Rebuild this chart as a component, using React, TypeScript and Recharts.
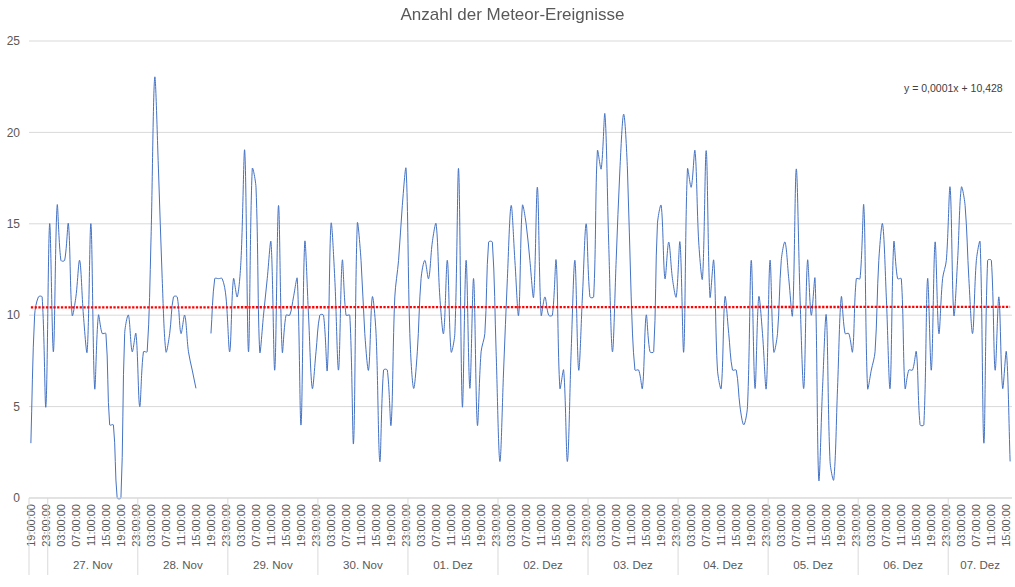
import { LineChart, Line, XAxis, YAxis, CartesianGrid, ReferenceLine } from "recharts";

const FONT = "'Liberation Sans', Arial, sans-serif";

// erste Messung: 26. Nov 19:00, danach stündlich
const FIRST_HOUR = 19;

const NOV_26 = [3, 10, 11, 11, 5];
const NOV_27 = [15, 8, 16, 13, 13, 15, 10, 11, 13, 10, 8, 15, 6, 10, 9, 9, 4, 4, 0, 0, 9, 10, 8, 9];
const NOV_28 = [5, 8, 8, 14, 23, 18, 12, 8, 9, 11, 11, 9, 10, 8, 7, 6, null, null, null, 9, 12, 12, 12, 11];
const NOV_29 = [8, 12, 11, 13, 19, 8, 18, 17, 8, 10, 12, 14, 7, 16, 8, 10, 10, 11, 12, 4, 14, 10, 6, 8];
const NOV_30 = [10, 10, 7, 15, 12, 7, 13, 10, 10, 3, 15, 13, 9, 7, 11, 9, 2, 7, 7, 4, 11, 13, 16, 18];
const DEZ_01 = [9, 6, 8, 12, 13, 12, 14, 15, 11, 9, 13, 8, 9, 18, 5, 13, 6, 12, 4, 8, 9, 14, 14, 8];
const DEZ_02 = [2, 7, 12, 16, 13, 10, 16, 15, 13, 11, 17, 10, 11, 10, 10, 13, 6, 7, 2, 8, 13, 7, 11, 15];
const DEZ_03 = [11, 11, 19, 18, 21, 14, 8, 13, 18, 21, 18, 11, 7, 7, 6, 10, 8, 8, 15, 16, 12, 14, 12, 11];
const DEZ_04 = [14, 8, 18, 17, 19, 14, 12, 19, 11, 13, 7, 6, 11, 9, 7, 7, 5, 4, 5, 13, 6, 11, 9, 6];
const DEZ_05 = [13, 8, 9, 13, 14, 12, 10, 18, 11, 6, 13, 10, 12, 1, 6, 10, 2, 1, 6, 11, 9, 9, 8, 12];
const DEZ_06 = [12, 16, 6, 7, 8, 13, 15, 11, 6, 14, 12, 12, 6, 7, 7, 8, 4, 4, 12, 7, 14, 9, 12, 13];
const DEZ_07 = [17, 10, 13, 17, 16, 12, 9, 13, 14, 3, 13, 13, 7, 11, 6, 8, 2];

// erster (angeschnittener) Tag bekommt keine Beschriftung, wie im Original
const DAY_LABELS = ["", "27. Nov", "28. Nov", "29. Nov", "30. Nov", "01. Dez", "02. Dez", "03. Dez", "04. Dez", "05. Dez", "06. Dez", "07. Dez"];
const DAY_COUNTS: (number | null)[][] = [NOV_26, NOV_27, NOV_28, NOV_29, NOV_30, DEZ_01, DEZ_02, DEZ_03, DEZ_04, DEZ_05, DEZ_06, DEZ_07];

const Y_TICKS = [0, 5, 10, 15, 20, 25];

// lineare Trendlinie, Werte aus der Beschriftung im Diagramm
const TREND_SLOPE = 0.0001;
const TREND_INTERCEPT = 10.428;
const TREND_LABEL = "y = 0,0001x + 10,428";

const HOUR_AXIS_H = 62;

const data: { idx: number; count: number | null }[] = [];
const boundaries = new Set<number>();
const centerLabels = new Map<number, string>();
DAY_COUNTS.forEach((counts, d) => {
  const start = data.length;
  boundaries.add(start - 0.5);
  counts.forEach((c) => data.push({ idx: data.length, count: c }));
  if (DAY_LABELS[d]) centerLabels.set(start + (counts.length - 1) / 2, DAY_LABELS[d]);
});
const N = data.length;
const HOUR_TICKS = data.filter((d) => d.idx % 4 === 0).map((d) => d.idx);
const DAY_TICKS = [...boundaries, ...centerLabels.keys()];

// Excel-artige Glättung: Catmull-Rom, Tangenten nach Sehnenlänge gewichtet,
// damit kurze (flache) Abschnitte neben steilen nicht überschwingen
function excelSmooth(context: any) {
  let pts: [number, number][] = [];
  const dist = (a: [number, number], b: [number, number]) => Math.hypot(b[0] - a[0], b[1] - a[1]);
  return {
    areaStart() {},
    areaEnd() {},
    lineStart() {
      pts = [];
    },
    point(x: number, y: number) {
      pts.push([+x, +y]);
    },
    lineEnd() {
      if (pts.length === 0) return;
      context.moveTo(pts[0][0], pts[0][1]);
      if (pts.length === 1) {
        context.lineTo(pts[0][0], pts[0][1]);
        return;
      }
      for (let i = 0; i < pts.length - 1; i++) {
        const p0 = pts[i - 1] ?? pts[i];
        const p1 = pts[i];
        const p2 = pts[i + 1];
        const p3 = pts[i + 2] ?? p2;
        const d01 = dist(p0, p1);
        const d12 = dist(p1, p2);
        const d23 = dist(p2, p3);
        const s1 = d01 + d12 > 0 ? d12 / (d01 + d12) / 3 : 0;
        const s2 = d12 + d23 > 0 ? d12 / (d12 + d23) / 3 : 0;
        context.bezierCurveTo(
          p1[0] + (p2[0] - p0[0]) * s1,
          p1[1] + (p2[1] - p0[1]) * s1,
          p2[0] - (p3[0] - p1[0]) * s2,
          p2[1] - (p3[1] - p1[1]) * s2,
          p2[0],
          p2[1]
        );
      }
    },
  };
}

function HourTick(props: any) {
  const { x, y, payload } = props;
  const h = (FIRST_HOUR + payload.value) % 24;
  return (
    <text
      transform={`translate(${x},${y + 6}) rotate(-90)`}
      textAnchor="end"
      dy="0.35em"
      fontSize={11}
      fill="#595959"
      fontFamily={FONT}
    >
      {`${String(h).padStart(2, "0")}:00:00`}
    </text>
  );
}

function DayTick(props: any) {
  const { x, y, payload } = props;
  if (boundaries.has(payload.value)) {
    return <line x1={x} x2={x} y1={y - HOUR_AXIS_H} y2={y + 15} stroke="#d9d9d9" strokeWidth={1} />;
  }
  return (
    <text x={x} y={y + 9} textAnchor="middle" fontSize={11.5} fill="#595959" fontFamily={FONT}>
      {centerLabels.get(payload.value)}
    </text>
  );
}

export default function App() {
  return (
    <div style={{ position: "fixed", left: 0, top: 0, width: 1015, height: 587, background: "#fff", fontFamily: FONT }}>
      <LineChart width={1015} height={587} data={data} margin={{ top: 41, right: 3, bottom: 0, left: 0 }}>
        <CartesianGrid vertical={false} stroke="#d9d9d9" />
        <XAxis
          dataKey="idx"
          type="number"
          domain={[-0.5, N - 0.5]}
          ticks={HOUR_TICKS}
          interval={0}
          height={HOUR_AXIS_H}
          tickSize={0}
          tickMargin={0}
          tickLine={false}
          axisLine={{ stroke: "#d9d9d9" }}
          tick={HourTick}
          allowDataOverflow
        />
        <XAxis
          xAxisId="day"
          dataKey="idx"
          type="number"
          domain={[-0.5, N - 0.5]}
          ticks={DAY_TICKS}
          interval={0}
          height={587 - 41 - 457 - HOUR_AXIS_H}
          tickSize={0}
          tickMargin={0}
          tickLine={false}
          axisLine={false}
          tick={DayTick}
          allowDataOverflow
        />
        <YAxis
          domain={[0, 25]}
          ticks={Y_TICKS}
          interval={0}
          width={29}
          axisLine={false}
          tickLine={false}
          tickSize={0}
          tickMargin={9}
          tick={{ fontSize: 12, fill: "#595959", fontFamily: FONT }}
        />
        <Line
          dataKey="count"
          type={excelSmooth as any}
          stroke="#4472C4"
          strokeWidth={1}
          dot={false}
          activeDot={false}
          connectNulls={false}
          isAnimationActive={false}
        />
        <ReferenceLine
          segment={[
            { x: 0, y: TREND_INTERCEPT + TREND_SLOPE * 1 },
            { x: N - 1, y: TREND_INTERCEPT + TREND_SLOPE * N },
          ]}
          stroke="#FF0000"
          strokeWidth={2.3}
          strokeDasharray="2.3 1.45"
        />
      </LineChart>
      <div
        style={{
          position: "absolute",
          left: 5,
          top: 6,
          width: 1015,
          textAlign: "center",
          fontSize: 17,
          lineHeight: "17px",
          color: "#595959",
        }}
      >
        Anzahl der Meteor-Ereignisse
      </div>
      <div
        style={{
          position: "absolute",
          left: 904,
          top: 83,
          fontSize: 10.5,
          lineHeight: "10.5px",
          color: "#404040",
          whiteSpace: "nowrap",
        }}
      >
        {TREND_LABEL}
      </div>
    </div>
  );
}
